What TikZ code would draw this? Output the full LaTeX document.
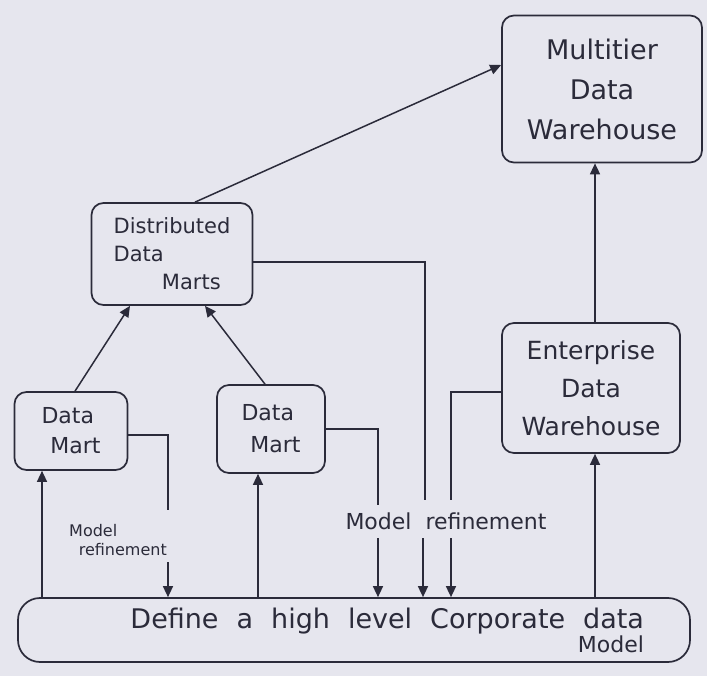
\documentclass[tikz,border=0pt]{standalone}
\usepackage{fontspec}
\setmainfont{DejaVu Sans}
\usetikzlibrary{arrows.meta,calc}
\definecolor{bg}{HTML}{E6E6EE}
\definecolor{ink}{HTML}{2B2B3A}
\begin{document}
\begin{tikzpicture}[x=1pt,y=-1pt,
 box/.style={draw=ink,line width=1.7pt,rounded corners=12pt,inner sep=2pt,text=ink},
 arr/.style={draw=ink,line width=1.5pt,-{Triangle[length=11pt,width=10pt]}},
 ln/.style={draw=ink,line width=1.5pt},
 lbl/.style={text=ink,inner sep=1pt}]
\fill[bg] (0,0) rectangle (707,676);
\useasboundingbox (0,0) rectangle (707,676);
% boxes
\node[box,minimum width=200pt,minimum height=147pt,align=center,font=\fontsize{27}{40}\selectfont] (mt) at (602,89) {Multitier\\Data\\Warehouse};
\node[box,minimum width=161pt,minimum height=102pt,align=left,font=\fontsize{21}{28}\selectfont] (dist) at (172,254) {Distributed\\Data\\\hspace*{2.3em}Marts};
\node[box,minimum width=113pt,minimum height=78pt,align=left,font=\fontsize{22}{30}\selectfont] (dm1) at (71,431) {Data\\\hspace*{0.4em}Mart};
\node[box,minimum width=108pt,minimum height=88pt,align=left,font=\fontsize{22}{32}\selectfont] (dm2) at (271,429) {Data\\\hspace*{0.4em}Mart};
\node[box,minimum width=178pt,minimum height=130pt,align=center,font=\fontsize{25}{38}\selectfont] (edw) at (591,388) {Enterprise\\Data\\Warehouse};
\node[box,rounded corners=22pt,minimum width=672pt,minimum height=64pt,text width=580pt,align=right,font=\fontsize{27}{24}\selectfont] (bot) at (354,630) {Define\ \ a\ \ high\ \ level\ \ Corporate\ \ data\\{\fontsize{22}{22}\selectfont Model}};
% labels
\node[lbl,align=left,font=\fontsize{16}{19}\selectfont] (lb1) at (118,540) {Model\\\hspace*{0.6em}refinement};
\node[lbl,font=\fontsize{22}{24}\selectfont] (lb2) at (446,521) {Model \ refinement};
% helper coordinates
\coordinate (x1) at (42,0);
\coordinate (x2) at (258,0);
\coordinate (x5) at (595,0);
\coordinate (c1) at (168,510); \coordinate (c1b) at (168,562);
\coordinate (c2) at (378,505); \coordinate (c2b) at (378,538);
\coordinate (c3) at (425,500); \coordinate (c3b) at (423,538);
\coordinate (c4) at (451,500); \coordinate (c4b) at (451,538);
% connectors
\draw[arr] ($(dist.north)+(23,0)$) -- ($(mt.west)+(0,-24)$);
\draw[arr] ($(dm1.north)+(4,0)$) -- ($(dist.south)+(-42,0)$);
\draw[arr] ($(dm2.north)+(-6,0)$) -- ($(dist.south)+(33,0)$);
\draw[arr] (edw.north -| x5) -- (mt.south -| x5);
\draw[arr] (bot.north -| x5) -- (edw.south -| x5);
\draw[arr] (bot.north -| x1) -- (dm1.south -| x1);
\draw[arr] (bot.north -| x2) -- (dm2.south -| x2);
\draw[ln] ($(dm1.east)+(0,4)$) -| (c1);
\draw[arr] (c1b) -- (c1b |- bot.north);
\draw[ln] (dm2.east) -| (c2);
\draw[arr] (c2b) -- (c2b |- bot.north);
\draw[ln] ($(dist.east)+(0,8)$) -| (c3);
\draw[arr] (c3b) -- (c3b |- bot.north);
\draw[ln] ($(edw.west)+(0,4)$) -| (c4);
\draw[arr] (c4b) -- (c4b |- bot.north);
\end{tikzpicture}
\end{document}
